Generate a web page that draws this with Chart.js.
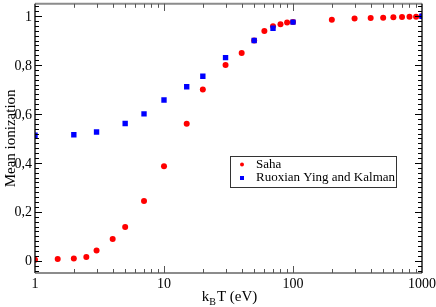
<!DOCTYPE html>
<html>
<head>
<meta charset="utf-8">
<script src="https://cdn.jsdelivr.net/npm/chart.js@4"></script>
<style>
html,body{margin:0;padding:0;background:#fff;}
#wrap{width:436px;height:307px;position:relative;}
</style>
</head>
<body>
<div id="wrap"><canvas id="c" width="436" height="307"></canvas></div>
<script>
const sahaX = [1, 1.5, 2, 2.5, 3, 4, 5, 7, 10, 15, 20, 30, 40, 50, 60, 70, 80, 90, 100, 200, 300, 400, 500, 600, 700, 800, 900, 1000];
const sahaY = [0.004, 0.007, 0.009, 0.015, 0.042, 0.089, 0.138, 0.244, 0.386, 0.56, 0.70, 0.80, 0.849, 0.90, 0.939, 0.958, 0.966, 0.974, 0.976, 0.985, 0.99, 0.992, 0.993, 0.995, 0.996, 0.997, 0.997, 0.999];
const rykX = [1, 2, 3, 5, 7, 10, 15, 20, 30, 50, 70, 100, 1000];
const rykY = [0.513, 0.515, 0.526, 0.561, 0.60, 0.657, 0.711, 0.754, 0.83, 0.90, 0.95, 0.975, 0.999];
const xMajorTicks = [1, 10, 100, 1000];
const xTickLabels = ["1", "10", "100", "1000"];
const yMajorTicks = [0, 0.2, 0.4, 0.6, 0.8, 1];
const yTickLabels = ["0", "0,2", "0,4", "0,6", "0,8", "1"];
const seriesNames = ["Saha", "Ruoxian Ying and Kalman"];

const SERIF = '"Liberation Serif", "DejaVu Serif", serif';

const sahaData = sahaX.map((x, i) => ({x: x, y: sahaY[i]}));
const rykData = rykX.map((x, i) => ({x: x, y: rykY[i]}));

const framePlugin = {
  id: 'frame',
  afterDraw(chart) {
    const ctx = chart.ctx;
    const a = chart.chartArea;
    const xs = chart.scales.x, ys = chart.scales.y;
    ctx.save();
    // frame
    ctx.lineWidth = 2;
    ctx.strokeStyle = '#8c8c8c';
    ctx.beginPath();
    ctx.moveTo(a.left, a.top); ctx.lineTo(a.right, a.top);
    ctx.moveTo(a.left, a.bottom); ctx.lineTo(a.right, a.bottom);
    ctx.stroke();
    ctx.lineWidth = 1.3;
    ctx.strokeStyle = '#000';
    ctx.beginPath();
    ctx.moveTo(a.left, a.top); ctx.lineTo(a.left, a.bottom);
    ctx.moveTo(a.right, a.top); ctx.lineTo(a.right, a.bottom);
    ctx.stroke();
    // x ticks
    ctx.lineWidth = 1;
    ctx.strokeStyle = '#555';
    ctx.beginPath();
    for (let d = 1; d < 1000; d *= 10) {
      for (let m = 1; m <= 10; m++) {
        const v = d * m;
        if (v > 1000) continue;
        const px = Math.round(xs.getPixelForValue(v)) + 0.5;
        const len = (m === 1 || m === 10) ? 7 : 4;
        ctx.moveTo(px, a.bottom); ctx.lineTo(px, a.bottom - len);
        ctx.moveTo(px, a.top); ctx.lineTo(px, a.top + len);
      }
    }
    ctx.stroke();
    // y ticks
    ctx.strokeStyle = '#000';
    ctx.beginPath();
    for (let k = -2; k <= 52; k++) {
      const v = k * 0.02;
      const py = Math.round(ys.getPixelForValue(v)) + 0.5;
      if (py < a.top || py > a.bottom) continue;
      const len = (k % 10 === 0) ? 7 : 4;
      ctx.moveTo(a.left, py); ctx.lineTo(a.left + len, py);
      ctx.moveTo(a.right, py); ctx.lineTo(a.right - len, py);
    }
    ctx.stroke();
    // tick labels
    ctx.fillStyle = '#000';
    ctx.font = '14px ' + SERIF;
    ctx.textAlign = 'right';
    ctx.textBaseline = 'middle';
    yMajorTicks.forEach((v, i) => {
      ctx.fillText(yTickLabels[i], a.left - 3, ys.getPixelForValue(v) + 1);
    });
    ctx.textAlign = 'center';
    ctx.textBaseline = 'top';
    xMajorTicks.forEach((v, i) => {
      let px = xs.getPixelForValue(v);
      ctx.fillText(xTickLabels[i], px, a.bottom + 4);
    });
    // axis titles
    ctx.font = '15px ' + SERIF;
    ctx.textBaseline = 'alphabetic';
    ctx.textAlign = 'left';
    const cx = (a.left + a.right) / 2;
    const w1 = ctx.measureText('k').width;
    ctx.font = '10px ' + SERIF;
    const w2 = ctx.measureText('B').width;
    ctx.font = '15px ' + SERIF;
    const w3 = ctx.measureText('T (eV)').width;
    const total = w1 + w2 + 1 + w3;
    let sx = cx - total / 2 + 1;
    const by = 301;
    ctx.fillText('k', sx, by);
    ctx.font = '10px ' + SERIF;
    ctx.fillText('B', sx + w1, by + 4);
    ctx.font = '15px ' + SERIF;
    ctx.fillText('T (eV)', sx + w1 + w2 + 1, by);
    ctx.save();
    ctx.translate(15, (a.top + a.bottom) / 2);
    ctx.rotate(-Math.PI / 2);
    ctx.textAlign = 'center';
    ctx.fillText('Mean ionization', 0, 0);
    ctx.restore();
    // legend
    const lx = 230.5, ly = 156.5, lw = 166, lh = 31;
    ctx.fillStyle = '#fff';
    ctx.fillRect(lx, ly, lw, lh);
    ctx.strokeStyle = '#333';
    ctx.lineWidth = 1;
    ctx.strokeRect(lx, ly, lw, lh);
    ctx.font = '13px ' + SERIF;
    ctx.textAlign = 'left';
    ctx.textBaseline = 'middle';
    ctx.fillStyle = '#000';
    ctx.fillText(seriesNames[0], 256, 165);
    ctx.fillText(seriesNames[1], 256, 178);
    ctx.fillStyle = '#ff0000';
    ctx.beginPath(); ctx.arc(242, 164.5, 2, 0, Math.PI * 2); ctx.fill();
    ctx.fillStyle = '#0000ff';
    ctx.fillRect(240, 176, 4, 4);
    ctx.restore();
  }
};

new Chart(document.getElementById('c'), {
  type: 'scatter',
  data: {
    datasets: [
      {label: seriesNames[0], data: sahaData, order: 2, pointStyle: 'circle', pointRadius: 3, pointHoverRadius: 3,
       backgroundColor: '#ff0000', borderColor: '#ff0000', borderWidth: 0},
      {label: seriesNames[1], data: rykData, order: 1, pointStyle: 'rect', pointRadius: 3.8, pointHoverRadius: 3.8,
       backgroundColor: '#0000ff', borderColor: '#0000ff', borderWidth: 0}
    ]
  },
  options: {
    responsive: false,
    animation: false,
    layout: {padding: {top: 1, right: 14, left: 0, bottom: 0}},
    plugins: {legend: {display: false}, tooltip: {enabled: false}},
    scales: {
      x: {
        type: 'logarithmic', min: 1, max: 1000,
        grid: {display: false, drawTicks: false}, border: {display: false},
        ticks: {display: false},
        afterFit(s) { s.height = 34; }
      },
      y: {
        type: 'linear', min: -0.05, max: 1.05,
        grid: {display: false, drawTicks: false}, border: {display: false},
        ticks: {display: false},
        afterFit(s) { s.width = 35; }
      }
    }
  },
  plugins: [framePlugin]
});
</script>
</body>
</html>
